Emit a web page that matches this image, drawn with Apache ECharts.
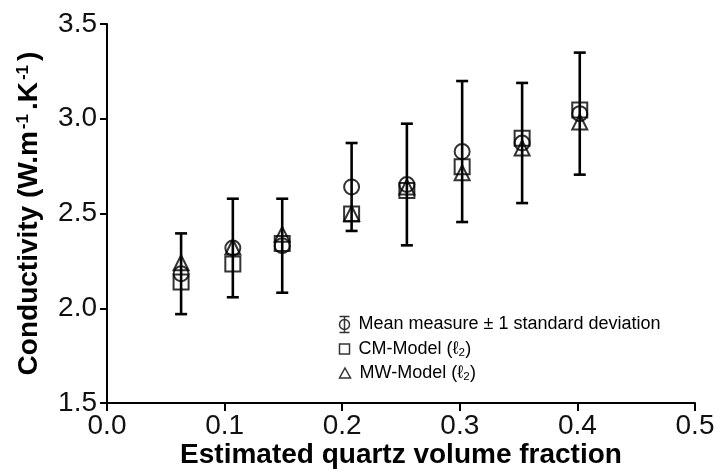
<!DOCTYPE html>
<html>
<head>
<meta charset="utf-8">
<script src="https://cdn.jsdelivr.net/npm/echarts@6/dist/echarts.min.js"></script>
<style>
html,body{margin:0;padding:0;background:#fff;}
#chart{width:720px;height:469px;}
</style>
</head>
<body>
<div id="chart"></div>
<script>
// ---- data ----
const xValues   = [0.063, 0.107, 0.149, 0.208, 0.255, 0.302, 0.353, 0.402];
const meanValues = [2.182, 2.318, 2.330, 2.640, 2.653, 2.827, 2.872, 3.027];
const sdValues   = [0.213, 0.260, 0.248, 0.232, 0.321, 0.372, 0.317, 0.322];
const cmValues   = [2.138, 2.233, 2.342, 2.497, 2.622, 2.747, 2.897, 3.046];
const mwValues   = [2.240, 2.323, 2.390, 2.500, 2.640, 2.715, 2.846, 2.983];
const xTicks = [0.0, 0.1, 0.2, 0.3, 0.4, 0.5];
const yTicks = [1.5, 2.0, 2.5, 3.0, 3.5];

const nameMean = 'Mean measure \u00b1 1 standard deviation';
const nameCM = 'CM-Model (\u2113\u2082)';
const nameMW = 'MW-Model (\u2113\u2082)';

const errData = xValues.map((x, i) => [x, meanValues[i] - sdValues[i], meanValues[i] + sdValues[i]]);
const meanData = xValues.map((x, i) => [x, meanValues[i]]);
const cmData = xValues.map((x, i) => [x, cmValues[i]]);
const mwData = xValues.map((x, i) => [x, mwValues[i]]);

const chart = echarts.init(document.getElementById('chart'), null, {renderer: 'canvas'});
const FONT = 'Liberation Sans, Arial, sans-serif';
const hollow = {color: 'none', borderColor: '#000', borderWidth: 2};

const phiIcon = 'path://M0,0L10,0M5,0L5,16M0,16L10,16M0,8C0,5.24 2.24,3 5,3C7.76,3 10,5.24 10,8C10,10.76 7.76,13 5,13C2.24,13 0,10.76 0,8Z';

const legendText = {fontFamily: FONT, fontSize: 18, color: '#000', padding: [0, 0, 0, 4]};

chart.setOption({
  animation: false,
  backgroundColor: '#fff',
  grid: {left: 107, right: 25, top: 24, bottom: 66, containLabel: false, outerBoundsMode: 'none'},
  xAxis: {
    type: 'value', min: 0, max: 0.5, interval: 0.1,
    name: 'Estimated quartz volume fraction',
    nameLocation: 'middle', nameGap: 38, nameMoveOverlap: false,
    nameTextStyle: {fontFamily: FONT, fontSize: 28, fontWeight: 'bold', color: '#000'},
    axisLine: {show: true, lineStyle: {color: '#000', width: 2}},
    axisTick: {show: true, length: 8, lineStyle: {color: '#000', width: 2}},
    axisLabel: {fontFamily: FONT, fontSize: 28, color: '#111', margin: 9,
      formatter: v => (xTicks.find(t => Math.abs(t - v) < 1e-9) ?? v).toFixed(1)},
    splitLine: {show: false}
  },
  yAxis: {
    type: 'value', min: 1.5, max: 3.5, interval: 0.5,
    name: 'Conductivity (W.m{s|-1}.K{s|-1})',
    nameLocation: 'middle', nameGap: 64, nameRotate: 90, nameMoveOverlap: false,
    nameTextStyle: {fontFamily: FONT, fontSize: 28, fontWeight: 'bold', color: '#000',
      rich: {s: {fontFamily: FONT, fontSize: 17, fontWeight: 'bold', verticalAlign: 'top', padding: [0, 4, 10, 2]}}},
    axisLine: {show: true, lineStyle: {color: '#000', width: 2}},
    axisTick: {show: true, length: 7, lineStyle: {color: '#000', width: 2}},
    axisLabel: {fontFamily: FONT, fontSize: 28, color: '#111', margin: 10,
      formatter: v => (yTicks.find(t => Math.abs(t - v) < 1e-9) ?? v).toFixed(1)},
    splitLine: {show: false}
  },
  legend: [
    {data: [{name: nameMean, icon: phiIcon, itemStyle: {color: 'none', borderColor: '#000', borderWidth: 1.5}}],
     left: 332, top: 309, itemWidth: 10, itemHeight: 16, itemGap: 0, textStyle: legendText, selectedMode: false},
    {data: [{name: nameCM, icon: 'rect', itemStyle: {color: 'none', borderColor: '#000', borderWidth: 1.5}}],
     left: 332, top: 335, itemWidth: 10, itemHeight: 10, textStyle: legendText, selectedMode: false},
    {data: [{name: nameMW, icon: 'triangle', itemStyle: {color: 'none', borderColor: '#000', borderWidth: 1.5}}],
     left: 332, top: 359, itemWidth: 11, itemHeight: 10, textStyle: legendText, selectedMode: false}
  ],
  series: [
    {
      name: 'errorbars', type: 'custom', data: errData, z: 3,
      renderItem: function (params, api) {
        const x = api.value(0);
        const lo = api.coord([x, api.value(1)]);
        const hi = api.coord([x, api.value(2)]);
        const hw = 6;
        const st = {stroke: '#000', lineWidth: 2.6, fill: 'none'};
        return {type: 'group', children: [
          {type: 'line', shape: {x1: lo[0], y1: lo[1], x2: hi[0], y2: hi[1]}, style: st},
          {type: 'line', shape: {x1: hi[0] - hw, y1: hi[1], x2: hi[0] + hw, y2: hi[1]}, style: st},
          {type: 'line', shape: {x1: lo[0] - hw, y1: lo[1], x2: lo[0] + hw, y2: lo[1]}, style: st}
        ]};
      }
    },
    {name: nameMean, type: 'scatter', data: meanData, symbol: 'circle', symbolSize: 15, itemStyle: hollow, z: 4},
    {name: nameCM, type: 'scatter', data: cmData, symbol: 'rect', symbolSize: 15, itemStyle: hollow, z: 4},
    {name: nameMW, type: 'scatter', data: mwData, symbol: 'triangle', symbolSize: 15, itemStyle: hollow, z: 4}
  ]
});
</script>
</body>
</html>
